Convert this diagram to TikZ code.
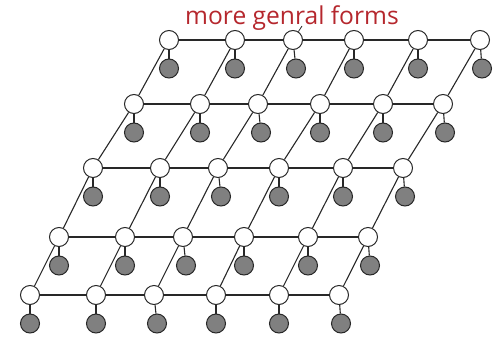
\documentclass[tikz,border=0pt]{standalone}
\usepackage{fontspec}
\newfontfamily\titlefont{Open Sans}
\definecolor{titlered}{RGB}{181,39,45}
\definecolor{linegray}{RGB}{40,40,40}
\definecolor{fillgray}{RGB}{128,128,128}
\begin{document}
\begin{tikzpicture}[x=1pt,y=-1pt,
  wnode/.style={circle,draw=linegray,fill=white,line width=1pt,minimum size=19pt,inner sep=0pt},
  gnode/.style={circle,draw=linegray,fill=fillgray,line width=1pt,minimum size=19pt,inner sep=0pt},
  edge/.style={draw=linegray,line width=1.1pt}]
\useasboundingbox (0,0) rectangle (494,337);
\node[font=\titlefont\fontsize{24.6}{28}\selectfont,text=titlered,anchor=base,inner sep=0pt] (title) at (292,25) {more genral forms};
\foreach \r/\y/\xs in {1/40/{169,235,293,354,418,480},
                       2/104/{134,200,258,320,383,443},
                       3/168/{93,160,218,279,343,403},
                       4/237/{59,125,183,244,308,368},
                       5/295/{30,96,154,216,279,339}} {
  \foreach \x [count=\c] in \xs {
    \node[wnode] (w\r-\c) at (\x,\y) {};
    \pgfmathsetmacro\dx{{0,0,3,0,0,2}[\c-1]}
    \node[gnode] (g\r-\c) at (\x+\dx,\y+28.5) {};
  }
}
\foreach \r in {1,...,5} {
  \foreach \c in {1,...,6} {
    \draw[edge] (w\r-\c) -- (g\r-\c);
    \pgfmathtruncatemacro\cn{\c+1}
    \pgfmathtruncatemacro\rn{\r+1}
    \ifnum\c<6 \draw[edge] (w\r-\c) -- (w\r-\cn); \fi
    \ifnum\r<5 \draw[edge] (w\r-\c) -- (w\rn-\c); \fi
  }
}
\coordinate (tip) at (302,26);
\draw[edge,line width=0.8pt] (w1-3) -- (tip);
\end{tikzpicture}
\end{document}
